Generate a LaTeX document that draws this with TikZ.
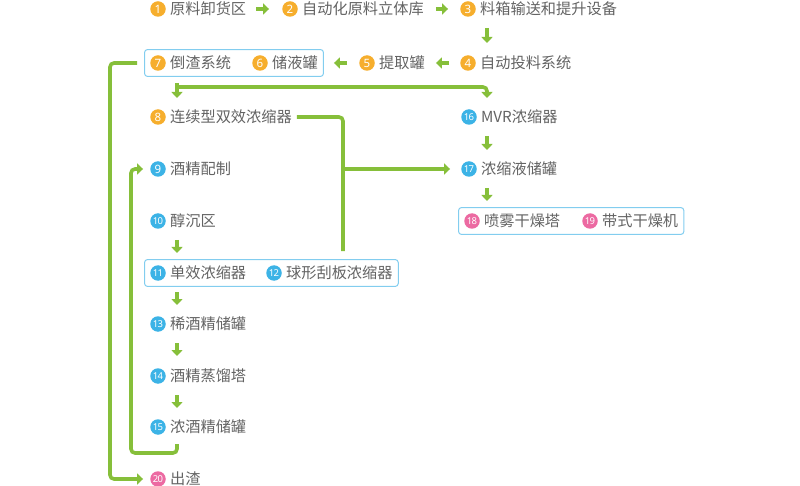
\documentclass[tikz,border=0pt]{standalone}
\usepackage{fontspec}
\setmainfont{Noto Sans CJK SC}
\newfontfamily\numfont{Noto Sans}
\usetikzlibrary{arrows.meta,fit,calc}
\definecolor{gr}{HTML}{86BF3A}
\definecolor{txt}{HTML}{636363}
\definecolor{bx}{HTML}{82CDEF}
\definecolor{org}{HTML}{F6AE2D}
\definecolor{blu}{HTML}{3CB3E6}
\definecolor{pnk}{HTML}{EC6AA2}
\newcommand\stg[6]{%
  \node[num=#4] (c#1) at (#2,#3) {#5};
  \node[lbl] (t#1) at ([xshift=4pt,yshift=-5.5pt]c#1.east) {#6};}
\newcommand\tw[2]{{\fontsize{9.5}{9.5}\selectfont #1\kern-0.6pt#2}}
\begin{document}
\begin{tikzpicture}[x=1pt,y=-1pt,
  num/.style={circle, fill=#1, minimum size=15.5pt, inner sep=0pt, text=white,
    font=\numfont\bfseries\fontsize{11.5}{11.5}\selectfont},
  lbl/.style={inner sep=0pt, text=txt, font=\fontsize{15.2}{16}\selectfont, anchor=base west},
  conn/.style={draw=gr, line width=3.6pt},
  arr/.style={conn, -{Triangle[width=11pt,length=6pt]}},
  grp/.style={draw=bx, line width=1pt, rounded corners=3pt, inner xsep=5.5pt, inner ysep=5.5pt}]
\useasboundingbox (0,0) rectangle (800,486);
% stages
\stg{1}{158}{9}{org}{1}{原料卸货区}
\stg{2}{290}{9}{org}{2}{自动化原料立体库}
\stg{3}{468}{9}{org}{3}{料箱输送和提升设备}
\stg{4}{468}{63}{org}{4}{自动投料系统}
\stg{5}{367}{63}{org}{5}{提取罐}
\stg{6}{260}{63}{org}{6}{储液罐}
\stg{7}{158}{63}{org}{7}{倒渣系统}
\stg{8}{158}{117}{org}{8}{连续型双效浓缩器}
\stg{9}{158}{169}{blu}{9}{酒精配制}
\stg{10}{158}{221}{blu}{\tw{1}{0}}{醇沉区}
\stg{11}{158}{273}{blu}{\tw{1}{1}}{单效浓缩器}
\stg{12}{274}{273}{blu}{\tw{1}{2}}{球形刮板浓缩器}
\stg{13}{158}{324}{blu}{\tw{1}{3}}{稀酒精储罐}
\stg{14}{158}{376}{blu}{\tw{1}{4}}{酒精蒸馏塔}
\stg{15}{158}{427}{blu}{\tw{1}{5}}{浓酒精储罐}
\stg{16}{469}{117}{blu}{\tw{1}{6}}{MVR浓缩器}
\stg{17}{469}{169}{blu}{\tw{1}{7}}{浓缩液储罐}
\stg{18}{472}{221}{pnk}{\tw{1}{8}}{喷雾干燥塔}
\stg{19}{590}{221}{pnk}{\tw{1}{9}}{带式干燥机}
\stg{20}{158}{479}{pnk}{\tw{2}{0}}{出渣}
% group boxes
\node[grp, fit=(c7)(t6.east|-c7)] (b7) {};
\node[grp, fit=(c11)(t12.east|-c11)] (b11) {};
\node[grp, fit=(c18)(t19.east|-c18)] (b18) {};
% bend columns
\coordinate (LO) at (110,0);
\coordinate (LI) at (131,0);
\coordinate (A) at (177,0);
\coordinate (B) at (487,0);
\coordinate (V) at (343,0);
\coordinate (T) at (0,87);
\coordinate (Q) at (177,453);
% row 1 / 2 arrows
\draw[arr] ($(t1.east|-c1)+(10,0)$) -- ($(c2.west)+(-13,0)$);
\draw[arr] ($(t2.east|-c2)+(12,0)$) -- ($(c3.west)+(-12,0)$);
\draw[arr] ($(B|-c3)+(0,19)$) -- ($(B|-c4)+(0,-20)$);
\draw[arr] ($(c4.west)+(-11,0)$) -- ($(t5.east|-c5)+(11,0)$);
\draw[arr] ($(c5.west)+(-12,0)$) -- ($(b7.east|-c6)+(10,0)$);
% left outer line to 20
\draw[arr, rounded corners=4] ($(b7.west|-c7)+(-7,0)$) -- (LO|-c7) -- (LO|-c20) -- ($(c20.west)+(-7,0)$);
% T split
\draw[arr] ($(A|-T)+(0,-4)$) -- ($(A|-c8)+(0,-19)$);
\draw[arr, rounded corners=4] (A|-T) -- (B|-T) -- ($(B|-c16)+(0,-19)$);
% from 8
\draw[conn, rounded corners=4] ($(t8.east|-c8)+(5,0)$) -- (V|-c8) -- ($(V|-b11.north)+(0,-8)$);
\draw[arr] (V|-c17) -- ($(c17.west)+(-11,0)$);
% right column
\draw[arr] ($(B|-c16)+(0,19)$) -- ($(B|-c17)+(0,-19)$);
\draw[arr] ($(B|-c17)+(0,19)$) -- ($(B|-c18)+(0,-20)$);
% left column
\draw[arr] ($(A|-c10)+(0,19)$) -- ($(A|-c11)+(0,-20)$);
\draw[arr] ($(A|-c11)+(0,19)$) -- ($(A|-c13)+(0,-19)$);
\draw[arr] ($(A|-c13)+(0,19)$) -- ($(A|-c14)+(0,-20)$);
\draw[arr] ($(A|-c14)+(0,19)$) -- ($(A|-c15)+(0,-19)$);
% loop back 15 -> 9
\draw[arr, rounded corners=4] ($(A|-c15)+(0,17)$) -- (Q) -- (LI|-Q) -- (LI|-c9) -- ($(c9.west)+(-7,0)$);
\end{tikzpicture}
\end{document}
